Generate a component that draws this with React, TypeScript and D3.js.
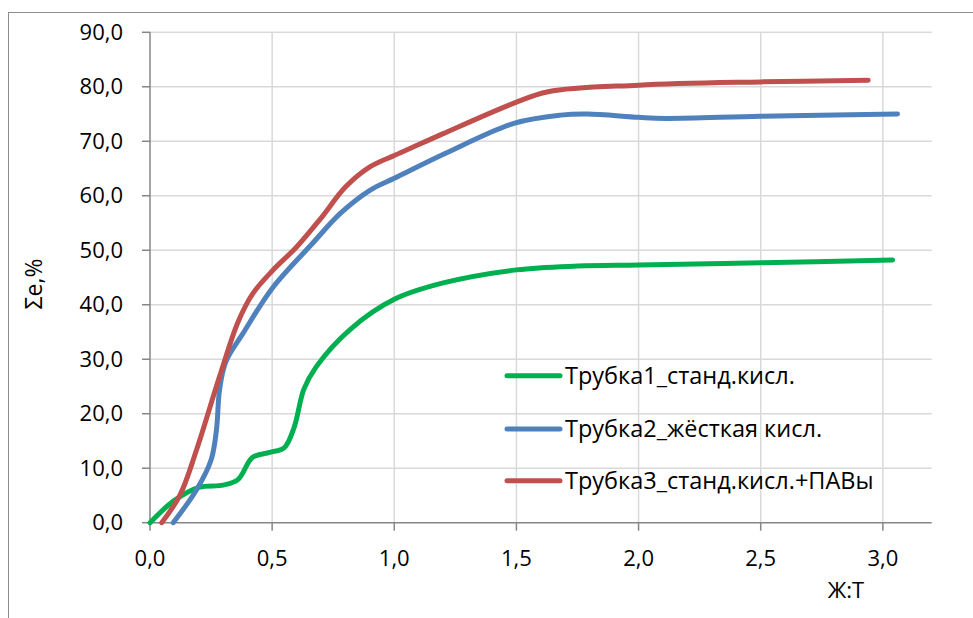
import React from "react";
import * as d3 from "d3";

const xTicks = [0, 0.5, 1.0, 1.5, 2.0, 2.5, 3.0];
const yTicks = [0, 10, 20, 30, 40, 50, 60, 70, 80, 90];

const seriesNames = ["Трубка1_станд.кисл.", "Трубка2_жёсткая кисл.", "Трубка3_станд.кисл.+ПАВы"];
const seriesColors = ["#00B050", "#4F81BD", "#C0504D"];

const tube1X = [0, 0.1, 0.2, 0.3, 0.36, 0.42, 0.49, 0.55, 0.59, 0.63, 0.68, 0.82, 1.0, 1.2, 1.5, 1.75, 2.0, 2.5, 3.04];
const tube1Y = [0, 4.1, 6.5, 6.9, 7.9, 12.0, 12.9, 13.8, 17.5, 24.5, 28.6, 35.5, 41.0, 44.0, 46.4, 47.1, 47.3, 47.7, 48.2];

const tube2X = [0.095, 0.19, 0.25, 0.272, 0.285, 0.31, 0.38, 0.5, 0.66, 0.78, 0.9, 1.0, 1.21, 1.49, 1.68, 1.79, 2.0, 2.11, 2.5, 3.06];
const tube2Y = [0, 6.0, 11.5, 17.0, 24.5, 29.5, 34.7, 43.0, 51.0, 56.8, 61.0, 63.2, 67.8, 73.3, 74.8, 75.0, 74.4, 74.2, 74.6, 75.0];

const tube3X = [0.048, 0.123, 0.19, 0.286, 0.36, 0.42, 0.5, 0.6, 0.7, 0.8, 0.9, 1.0, 1.1, 1.2, 1.49, 1.63, 2.0, 2.5, 2.94];
const tube3Y = [0, 5.1, 13.3, 27.0, 36.8, 42.0, 46.2, 50.6, 55.9, 61.6, 65.3, 67.4, 69.4, 71.4, 77.0, 79.1, 80.3, 80.9, 81.2];

const FONT = "'Open Sans', 'Noto Sans', sans-serif";

export default function App() {
  const x = d3.scaleLinear().domain([0, 3.2]).range([150, 931.7]);
  const y = d3.scaleLinear().domain([0, 90]).range([522.7, 32.3]);
  const fmt = (v: number) => v.toFixed(1).replace(".", ",");

  const line = d3
    .line<[number, number]>()
    .x((d) => x(d[0]))
    .y((d) => y(d[1]))
    .curve(d3.curveCatmullRom.alpha(0.5));

  const series = [
    { xs: tube1X, ys: tube1Y },
    { xs: tube2X, ys: tube2Y },
    { xs: tube3X, ys: tube3Y },
  ].map((s, i) => ({
    name: seriesNames[i],
    color: seriesColors[i],
    pts: s.xs.map((v, j) => [v, s.ys[j]] as [number, number]),
  }));

  const legendY = [375.7, 429, 480.7];

  return (
    <svg
      width={973}
      height={618}
      style={{ position: "fixed", left: 0, top: 0, background: "#fff" }}
      fontFamily={FONT}
    >
      <rect x={0} y={0} width={973} height={618} fill="#fff" />
      <rect x={8.5} y={12.5} width={1200} height={800} fill="#fff" stroke="#8c8c8c" strokeWidth={1} />
      {yTicks.filter((t) => t > 0).map((t) => (
        <line key={"hy" + t} x1={x(0)} x2={x(3.2)} y1={y(t)} y2={y(t)} stroke="#d9d9d9" strokeWidth={1.5} />
      ))}
      {xTicks.filter((t) => t > 0).map((t) => (
        <line key={"vx" + t} x1={x(t)} x2={x(t)} y1={y(0)} y2={y(90)} stroke="#d9d9d9" strokeWidth={1.5} />
      ))}
      <line x1={x(0)} x2={x(0)} y1={y(0)} y2={y(90)} stroke="#868686" strokeWidth={1.5} />
      <line x1={x(0)} x2={x(3.2)} y1={y(0)} y2={y(0)} stroke="#868686" strokeWidth={1.5} />
      {yTicks.map((t) => (
        <g key={"yt" + t}>
          <line x1={x(0) - 8} x2={x(0)} y1={y(t)} y2={y(t)} stroke="#868686" strokeWidth={1.5} />
          <text x={123} y={y(t)} dy="0.35em" textAnchor="end" fontSize={22} fill="#000">
            {fmt(t)}
          </text>
        </g>
      ))}
      {xTicks.map((t) => (
        <g key={"xt" + t}>
          <line x1={x(t)} x2={x(t)} y1={y(0)} y2={y(0) + 8} stroke="#868686" strokeWidth={1.5} />
          <text x={x(t)} y={566} textAnchor="middle" fontSize={22} fill="#000">
            {fmt(t)}
          </text>
        </g>
      ))}
      <text x={846} y={598} textAnchor="middle" fontSize={22} fill="#000">
        Ж:Т
      </text>
      <text transform={`translate(42,284) rotate(-90)`} textAnchor="middle" fontSize={23} fill="#000">
        Σe,%
      </text>
      {series.map((s) => (
        <path
          key={s.name}
          d={line(s.pts) || ""}
          fill="none"
          stroke={s.color}
          strokeWidth={5}
          strokeLinecap="round"
          strokeLinejoin="round"
        />
      ))}
      {series.map((s, i) => (
        <g key={"lg" + i}>
          <line x1={507} x2={560} y1={legendY[i]} y2={legendY[i]} stroke={s.color} strokeWidth={5} strokeLinecap="round" />
          <text x={565} y={legendY[i]} dy="0.35em" fontSize={23.5} fill="#000">
            {s.name}
          </text>
        </g>
      ))}
    </svg>
  );
}
